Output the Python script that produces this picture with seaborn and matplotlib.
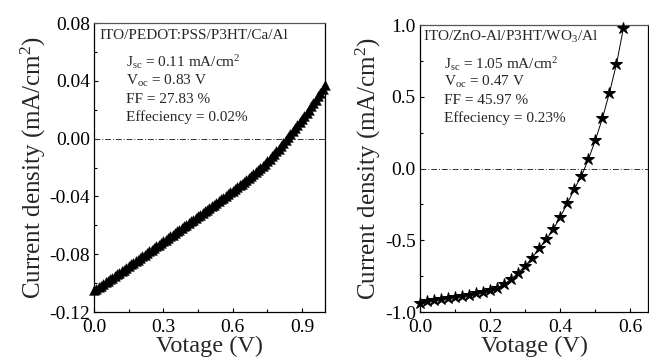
import numpy as np
import pandas as pd
import matplotlib
matplotlib.use("Agg")
import matplotlib.pyplot as plt
from matplotlib.ticker import MultipleLocator, FormatStrFormatter
import seaborn as sns

# ---- data ----
v_left = [round(0.01 * i, 2) for i in range(101)]
j_left = [-0.1050, -0.1039, -0.1028, -0.1017, -0.1006, -0.0995, -0.0984, -0.0973, -0.0962, -0.0951,
          -0.0940, -0.0929, -0.0917, -0.0906, -0.0894, -0.0883, -0.0871, -0.0860, -0.0848, -0.0837,
          -0.0825, -0.0814, -0.0802, -0.0791, -0.0779, -0.0768, -0.0756, -0.0745, -0.0733, -0.0722,
          -0.0710, -0.0699, -0.0687, -0.0676, -0.0664, -0.0653, -0.0641, -0.0630, -0.0618, -0.0607,
          -0.0595, -0.0584, -0.0572, -0.0561, -0.0549, -0.0538, -0.0526, -0.0515, -0.0503, -0.0492,
          -0.0480, -0.0468, -0.0456, -0.0444, -0.0432, -0.0420, -0.0408, -0.0396, -0.0384, -0.0372,
          -0.0360, -0.0348, -0.0336, -0.0324, -0.0312, -0.0299, -0.0286, -0.0273, -0.0260, -0.0246,
          -0.0232, -0.0218, -0.0203, -0.0188, -0.0172, -0.0156, -0.0140, -0.0123, -0.0106, -0.0088,
          -0.0070, -0.0050, -0.0030, -0.0010, 0.0010, 0.0030, 0.0050, 0.0071, 0.0092, 0.0113,
          0.0135, 0.0156, 0.0178, 0.0200, 0.0223, 0.0246, 0.0270, 0.0294, 0.0319, 0.0344,
          0.0370]

v_right = [0.00, 0.02, 0.04, 0.06, 0.08, 0.10, 0.12, 0.14, 0.16, 0.18,
           0.20, 0.22, 0.24, 0.26, 0.28, 0.30, 0.32, 0.34, 0.36, 0.38,
           0.40, 0.42, 0.44, 0.46, 0.48, 0.50, 0.52, 0.54, 0.56, 0.58]
j_right = [-0.935, -0.925, -0.917, -0.910, -0.902, -0.894, -0.886, -0.878, -0.868, -0.858,
           -0.846, -0.830, -0.805, -0.772, -0.726, -0.679, -0.621, -0.556, -0.494, -0.424,
           -0.336, -0.243, -0.143, -0.052, 0.064, 0.199, 0.350, 0.528, 0.728, 0.980]

left_text = ["ITO/PEDOT:PSS/P3HT/Ca/Al",
             r"J$_{\rm sc}$ = 0.11 mA/cm$^{\rm 2}$",
             r"V$_{\rm oc}$ = 0.83 V",
             "FF = 27.83 %",
             "Effeciency = 0.02%"]
right_text = [r"ITO/ZnO-Al/P3HT/WO$_{\rm 3}$/Al",
              r"J$_{\rm sc}$ = 1.05 mA/cm$^{\rm 2}$",
              r"V$_{\rm oc}$ = 0.47 V",
              "FF = 45.97 %",
              "Effeciency = 0.23%"]

xlabel = "Votage (V)"
ylabel = r"Current density (mA/cm$^{\rm 2}$)"

# ---- style ----
sns.set_theme(style="ticks")
plt.rcParams["font.family"] = ["Liberation Serif", "DejaVu Serif"]
plt.rcParams["mathtext.fontset"] = "custom"
plt.rcParams["mathtext.rm"] = "Liberation Serif"
plt.rcParams["mathtext.it"] = "Liberation Serif:italic"
plt.rcParams["mathtext.bf"] = "Liberation Serif:bold"

fig = plt.figure(figsize=(6.49, 3.61), dpi=100)
ax1 = fig.add_axes([0.1448, 0.1357, 0.356, 0.8003])
ax2 = fig.add_axes([0.6472, 0.1357, 0.3513, 0.795])

df_l = pd.DataFrame({"V": v_left, "J": j_left})
df_r = pd.DataFrame({"V": v_right, "J": j_right})

sns.scatterplot(data=df_l, x="V", y="J", ax=ax1, marker="^", s=50,
                color="black", edgecolor="black", linewidth=0.3, clip_on=False, zorder=3)
sns.lineplot(data=df_r, x="V", y="J", ax=ax2, color="black", linewidth=0.7,
             marker="*", markersize=9, markeredgecolor="black", clip_on=False, zorder=3)

for ax in (ax1, ax2):
    ax.axhline(0, color="#333333", linestyle=(0, (6, 2, 1, 2)), linewidth=0.7, zorder=1)
    ax.set_xlabel(xlabel, fontsize=17.5, labelpad=0)
    ax.set_ylabel(ylabel, fontsize=18, labelpad=1)
    for s in ax.spines.values():
        s.set_linewidth(0.9)
        s.set_color("black")
    ax.spines["top"].set_color("#555555")
    ax.spines["top"].set_linestyle((0, (1, 1)))
    ax.tick_params(direction="in", which="both", length=3, width=0.8,
                   labelsize=14, colors="black", pad=3)
    ax.tick_params(which="minor", length=2)
    ax.tick_params(axis="x", which="both", pad=5)

ax1.set_xlim(0, 1.0)
ax1.set_ylim(-0.12, 0.08)
ax1.xaxis.set_major_locator(MultipleLocator(0.3))
ax1.xaxis.set_minor_locator(MultipleLocator(0.15))
ax1.yaxis.set_major_locator(MultipleLocator(0.04))
ax1.yaxis.set_minor_locator(MultipleLocator(0.02))
ax1.yaxis.set_major_formatter(FormatStrFormatter("%.2f"))
ax1.xaxis.set_major_formatter(FormatStrFormatter("%.1f"))

ax2.set_xlim(0, 0.65)
ax2.set_ylim(-1.0, 1.0)
ax2.xaxis.set_major_locator(MultipleLocator(0.2))
ax2.xaxis.set_minor_locator(MultipleLocator(0.1))
ax2.yaxis.set_major_locator(MultipleLocator(0.5))
ax2.yaxis.set_minor_locator(MultipleLocator(0.25))
ax2.yaxis.set_major_formatter(FormatStrFormatter("%.1f"))
ax2.xaxis.set_major_formatter(FormatStrFormatter("%.1f"))

def annotate(ax, lines, x0, x1):
    ys = [0.958, 0.865, 0.800, 0.737, 0.675]
    ax.text(x0, ys[0], lines[0], transform=ax.transAxes, fontsize=11,
            va="center", ha="left")
    for t, y in zip(lines[1:], ys[1:]):
        ax.text(x1, y, t, transform=ax.transAxes, fontsize=11,
                va="center", ha="left")

annotate(ax1, left_text, 0.025, 0.14)
annotate(ax2, right_text, 0.012, 0.105)

fig.savefig("out.png", dpi=100)
